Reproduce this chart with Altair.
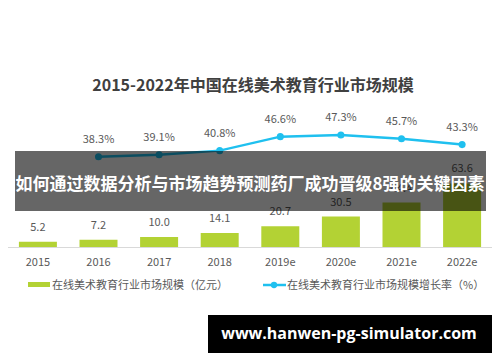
import altair as alt
import pandas as pd

years = ["2015", "2016", "2017", "2018", "2019e", "2020e", "2021e", "2022e"]
market_size = [5.2, 7.2, 10.0, 14.1, 20.7, 30.5, 44.4, 63.6]
growth_years = ["2016", "2017", "2018", "2019e", "2020e", "2021e", "2022e"]
growth_rate = [38.3, 39.1, 40.8, 46.6, 47.3, 45.7, 43.3]

title_text = "2015-2022年中国在线美术教育行业市场规模"
banner_text = "如何通过数据分析与市场趋势预测药厂成功晋级8强的关键因素"
watermark_text = "www.hanwen-pg-simulator.com"
legend_bar = "在线美术教育行业市场规模（亿元）"
legend_line = "在线美术教育行业市场规模增长率（%）"

BAR = "#b3d234"
LINE = "#1fc0ef"
GRAY = "#595959"
FONT = "Noto Sans CJK SC"

bars_df = pd.DataFrame({"year": years, "value": market_size,
                        "label": [f"{v:.1f}" for v in market_size]})
line_df = pd.DataFrame({"year": growth_years, "rate": growth_rate,
                        "label": [f"{v:.1f}%" for v in growth_rate]})
one = pd.DataFrame({"a": [0]})

xscale = alt.Scale(domain=years, paddingInner=0.373, paddingOuter=0.18)
x = alt.X("year:N", scale=xscale, axis=None, sort=years)
ybar = alt.Y("value:Q", scale=alt.Scale(domain=[-107, 239], nice=False, zero=False), axis=None)
yline = alt.Y("rate:Q", scale=alt.Scale(domain=[-43.55, 99.96], nice=False, zero=False), axis=None)

base_bar = alt.Chart(bars_df)
bars = base_bar.mark_bar(color=BAR).encode(x=x, y=ybar, y2=alt.datum(0))
bar_labels = base_bar.mark_text(font=FONT, fontSize=11, color=GRAY, dy=-14).encode(
    x=x, y=ybar, text="label:N")
year_labels = base_bar.mark_text(font=FONT, fontSize=11, color=GRAY, baseline="middle").encode(
    x=x, y=alt.value(255), text="year:N")
bar_layer = alt.layer(bars, bar_labels, year_labels)

base_line = alt.Chart(line_df)
line = base_line.mark_line(color=LINE, strokeWidth=2.5).encode(x=x, y=yline)
points = base_line.mark_point(color=LINE, filled=True, opacity=1, size=50).encode(x=x, y=yline)
line_labels = base_line.mark_text(font=FONT, fontSize=11, color=GRAY, dy=-17).encode(
    x=x, y=yline, text="label:N")
line_layer = alt.layer(line, points, line_labels)

deco = alt.Chart(one)
axis_line = deco.mark_rule(color="#d9d9d9", strokeWidth=1).encode(
    x=alt.value(0), x2=alt.value(484), y=alt.value(239.5))
title = deco.mark_text(font=FONT, fontSize=16, fontWeight="bold", color="#404040",
                       baseline="middle").encode(
    x=alt.value(245), y=alt.value(78), text=alt.value(title_text))
leg_rect = deco.mark_rect(color=BAR).encode(
    x=alt.value(20), x2=alt.value(42), y=alt.value(274), y2=alt.value(279))
leg_text1 = deco.mark_text(font=FONT, fontSize=11, color=GRAY, align="left",
                           baseline="middle").encode(
    x=alt.value(44), y=alt.value(277.5), text=alt.value(legend_bar))
leg_rule = deco.mark_rule(color=LINE, strokeWidth=2.5).encode(
    x=alt.value(255), x2=alt.value(278), y=alt.value(277))
leg_dot = deco.mark_point(color=LINE, filled=True, opacity=1, size=40).encode(
    x=alt.value(266), y=alt.value(277))
leg_text2 = deco.mark_text(font=FONT, fontSize=11, color=GRAY, align="left",
                           baseline="middle").encode(
    x=alt.value(279), y=alt.value(277.5), text=alt.value(legend_line))
banner = deco.mark_rect(color="black", opacity=0.6).encode(
    x=alt.value(7), x2=alt.value(478), y=alt.value(143), y2=alt.value(203))
banner_label = deco.mark_text(font=FONT, fontSize=17, fontWeight="bold", color="white",
                              baseline="middle").encode(
    x=alt.value(242), y=alt.value(177), text=alt.value(banner_text))
wm_rect = deco.mark_rect(color="black").encode(
    x=alt.value(200), x2=alt.value(484), y=alt.value(307), y2=alt.value(345))
wm_text = deco.mark_text(font="Open Sans", fontSize=16, fontWeight="bold", color="white",
                         baseline="middle").encode(
    x=alt.value(341), y=alt.value(326), text=alt.value(watermark_text))

chart = alt.layer(
    bar_layer, line_layer, axis_line, title, leg_rect, leg_text1, leg_rule, leg_dot,
    leg_text2, banner, banner_label, wm_rect, wm_text
).resolve_scale(y="independent").properties(
    width=484, height=346, padding=0, autosize=alt.AutoSizeParams(type="none"),
    background="white"
).configure_view(stroke=None)

chart.save("out.html", embed_options={"renderer": "svg", "actions": False})
